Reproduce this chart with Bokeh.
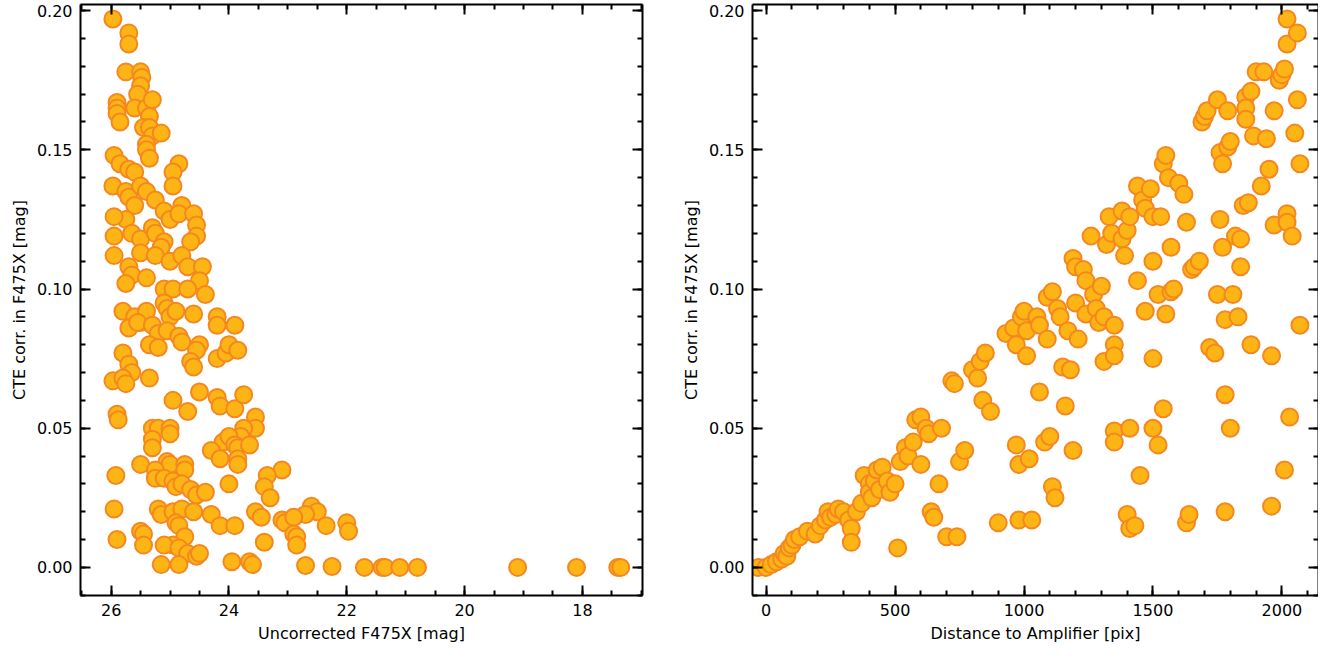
from bokeh.plotting import figure
from bokeh.layouts import row
from bokeh.models import LinearAxis, SingleIntervalTicker, Range1d, PrintfTickFormatter, CustomJSTickFormatter
from bokeh.embed import file_html
from bokeh.resources import INLINE

# left panel: uncorrected magnitude vs CTE correction
mag = [25.97, 25.7, 25.7, 25.75, 25.5, 25.48, 25.5, 25.55, 25.9, 25.9, 25.9, 25.85, 25.6, 25.4, 25.3, 25.35,
       25.45, 25.35, 25.3, 25.15, 25.4, 25.4, 25.35, 25.95, 25.85, 25.7, 25.6, 24.85, 24.95, 24.95, 25.97, 25.75,
       25.7, 25.5, 25.4, 25.25, 25.1, 25.6, 25.75, 25.95, 25.65, 25.95, 25.5, 25.3, 25.25, 25.0, 24.8, 24.85,
       24.6, 24.55, 24.55, 24.65, 25.1, 25.15, 25.95, 25.5, 25.25, 25.0, 24.8, 24.7, 24.45, 24.5, 25.7, 25.65,
       25.75, 25.4, 25.1, 24.95, 24.7, 24.4, 25.8, 25.6, 25.5, 25.4, 25.1, 25.05, 25.0, 24.9, 24.6, 24.2, 24.2,
       23.9, 25.7, 25.55, 25.3, 25.2, 25.05, 24.85, 24.8, 24.5, 24.55, 24.2, 24.05, 24.0, 23.85, 25.8, 25.7,
       25.65, 25.35, 25.2, 24.65, 24.6, 25.97, 25.8, 25.75, 25.35, 24.5, 24.2, 24.15, 23.9, 23.75, 24.95, 24.7,
       25.9, 25.88, 23.55, 23.55, 23.75, 23.8, 25.3, 25.2, 25.0, 25.0, 25.3, 25.3, 24.1, 24.0, 23.9, 23.85,
       23.65, 24.3, 24.15, 23.85, 23.85, 25.5, 25.05, 25.0, 24.75, 24.75, 25.25, 25.25, 25.1, 24.95, 24.9,
       25.92, 23.1, 23.35, 23.4, 23.3, 24.8, 24.65, 24.55, 24.4, 24.0, 25.95, 25.2, 25.15, 24.95, 24.8, 24.6,
       24.3, 23.55, 23.45, 24.9, 24.85, 24.15, 23.9, 23.1, 23.05, 22.6, 22.5, 22.7, 22.9, 22.35, 22.0, 21.97,
       25.9, 25.5, 25.45, 25.45, 24.75, 24.95, 25.1, 24.85, 24.7, 24.55, 24.5, 23.4, 22.9, 22.85, 22.85, 25.15,
       24.85, 23.95, 23.65, 23.6, 22.7, 22.25, 21.7, 21.4, 21.35, 21.1, 20.8, 19.1, 18.1, 17.4, 17.35]
cte_mag = [0.197, 0.192, 0.188, 0.178, 0.178, 0.176, 0.173, 0.170, 0.167, 0.165, 0.163, 0.160, 0.165, 0.165,
           0.168, 0.162, 0.158, 0.158, 0.155, 0.156, 0.152, 0.150, 0.147, 0.148, 0.145, 0.143, 0.142, 0.145,
           0.142, 0.137, 0.137, 0.135, 0.133, 0.137, 0.135, 0.132, 0.128, 0.130, 0.125, 0.126, 0.120, 0.119,
           0.118, 0.122, 0.120, 0.125, 0.130, 0.127, 0.127, 0.123, 0.119, 0.117, 0.117, 0.115, 0.112, 0.113,
           0.112, 0.110, 0.112, 0.108, 0.108, 0.103, 0.108, 0.105, 0.102, 0.104, 0.100, 0.100, 0.100, 0.098,
           0.092, 0.090, 0.088, 0.092, 0.095, 0.093, 0.090, 0.092, 0.091, 0.090, 0.087, 0.087, 0.086, 0.088,
           0.087, 0.084, 0.085, 0.083, 0.081, 0.080, 0.078, 0.075, 0.077, 0.080, 0.078, 0.077, 0.073, 0.070,
           0.080, 0.079, 0.074, 0.072, 0.067, 0.068, 0.066, 0.068, 0.063, 0.061, 0.058, 0.057, 0.062, 0.060,
           0.056, 0.055, 0.053, 0.054, 0.050, 0.050, 0.047, 0.050, 0.050, 0.050, 0.048, 0.046, 0.043, 0.045,
           0.047, 0.044, 0.043, 0.044, 0.042, 0.039, 0.039, 0.037, 0.037, 0.038, 0.037, 0.037, 0.035, 0.035,
           0.032, 0.032, 0.031, 0.029, 0.033, 0.035, 0.033, 0.029, 0.025, 0.030, 0.028, 0.026, 0.027, 0.030,
           0.021, 0.021, 0.019, 0.020, 0.021, 0.020, 0.019, 0.020, 0.018, 0.016, 0.015, 0.015, 0.015, 0.017,
           0.016, 0.022, 0.020, 0.019, 0.018, 0.015, 0.016, 0.013, 0.010, 0.013, 0.012, 0.008, 0.011, 0.008,
           0.008, 0.007, 0.005, 0.004, 0.005, 0.009, 0.012, 0.011, 0.008, 0.001, 0.001, 0.002, 0.002, 0.001,
           0.0007, 0.0003, 0.0, 0.0, 0.0, 0.0, 0.0, 0.0, 0.0, 0.0, 0.0]

# right panel: distance to amplifier vs CTE correction
dist = [-30, 0, 20, 40, 60, 70, 80, 90, 100, 110, 130, 160, 190, 210, 230, 240, 250, 270, 280, 300, 320, 330,
        330, 350, 370, 380, 400, 400, 410, 420, 430, 440, 450, 470, 480, 500, 510, 520, 540, 550, 570, 580, 600,
        600, 620, 630, 640, 650, 670, 680, 700, 720, 730, 740, 750, 770, 800, 820, 830, 840, 850, 870, 900, 930,
        960, 970, 970, 980, 980, 990, 1000, 1010, 1010, 1020, 1030, 1050, 1060, 1060, 1080, 1090, 1090, 1100,
        1110, 1110, 1120, 1130, 1140, 1150, 1160, 1170, 1180, 1190, 1190, 1200, 1200, 1210, 1230, 1240, 1240,
        1260, 1270, 1280, 1290, 1300, 1310, 1310, 1320, 1330, 1340, 1350, 1350, 1350, 1350, 1350, 1380, 1380,
        1390, 1400, 1410, 1410, 1400, 1410, 1430, 1440, 1440, 1450, 1460, 1470, 1470, 1490, 1500, 1500, 1500,
        1500, 1520, 1520, 1530, 1540, 1540, 1550, 1550, 1560, 1570, 1570, 1580, 1600, 1620, 1630, 1630, 1640,
        1650, 1660, 1680, 1690, 1700, 1710, 1720, 1740, 1750, 1750, 1760, 1760, 1770, 1770, 1780, 1780, 1780,
        1790, 1790, 1800, 1800, 1810, 1820, 1830, 1840, 1840, 1850, 1860, 1860, 1860, 1870, 1880, 1880, 1890,
        1900, 1920, 1930, 1940, 1950, 1960, 1960, 1970, 1970, 1990, 2000, 2010, 2010, 2020, 2020, 2020, 2020,
        2030, 2040, 2050, 2060, 2060, 2070, 2070]
cte_dist = [0.0, 0.0, 0.001, 0.002, 0.003, 0.005, 0.004, 0.007, 0.008, 0.010, 0.011, 0.013, 0.012, 0.015,
            0.017, 0.020, 0.018, 0.019, 0.021, 0.020, 0.017, 0.014, 0.009, 0.020, 0.023, 0.033, 0.030, 0.027,
            0.025, 0.031, 0.035, 0.028, 0.036, 0.031, 0.027, 0.030, 0.007, 0.038, 0.043, 0.040, 0.045, 0.053,
            0.054, 0.037, 0.050, 0.048, 0.020, 0.018, 0.030, 0.050, 0.011, 0.067, 0.066, 0.011, 0.038, 0.042,
            0.071, 0.068, 0.074, 0.060, 0.077, 0.056, 0.016, 0.084, 0.086, 0.080, 0.044, 0.037, 0.017, 0.090,
            0.092, 0.085, 0.076, 0.039, 0.017, 0.090, 0.087, 0.063, 0.045, 0.082, 0.097, 0.047, 0.099, 0.029,
            0.025, 0.093, 0.090, 0.072, 0.058, 0.085, 0.071, 0.111, 0.042, 0.108, 0.095, 0.082, 0.107, 0.103,
            0.091, 0.119, 0.098, 0.093, 0.088, 0.101, 0.074, 0.090, 0.116, 0.126, 0.120, 0.087, 0.080, 0.076,
            0.049, 0.045, 0.128, 0.118, 0.112, 0.121, 0.126, 0.050, 0.019, 0.014, 0.015, 0.137, 0.103, 0.033,
            0.132, 0.129, 0.092, 0.136, 0.126, 0.110, 0.075, 0.050, 0.044, 0.098, 0.126, 0.145, 0.057, 0.148,
            0.091, 0.140, 0.115, 0.099, 0.100, 0.138, 0.134, 0.124, 0.016, 0.019, 0.107, 0.108, 0.110, 0.160,
            0.162, 0.164, 0.079, 0.077, 0.168, 0.098, 0.149, 0.125, 0.145, 0.115, 0.089, 0.062, 0.020, 0.151,
            0.164, 0.153, 0.050, 0.098, 0.119, 0.090, 0.118, 0.108, 0.130, 0.169, 0.165, 0.161, 0.131, 0.080,
            0.171, 0.155, 0.178, 0.137, 0.178, 0.154, 0.143, 0.076, 0.022, 0.164, 0.123, 0.175, 0.177, 0.035,
            0.179, 0.127, 0.124, 0.188, 0.197, 0.054, 0.119, 0.156, 0.192, 0.168, 0.145, 0.087]

FONT = "DejaVu Sans"
FILL = "#FDB515"
EDGE = "#F5871F"
BLANK = CustomJSTickFormatter(code="return '';")


def style_axis(ax, major, minor_n, labels=True):
    ax.ticker = SingleIntervalTicker(interval=major, num_minor_ticks=minor_n)
    ax.axis_line_width = 2
    ax.axis_line_color = "black"
    ax.major_tick_in = 10
    ax.major_tick_out = 0
    ax.minor_tick_in = 5
    ax.minor_tick_out = 0
    ax.major_tick_line_width = 2
    ax.minor_tick_line_width = 2
    ax.major_label_text_font = FONT
    ax.major_label_text_font_size = "16px"
    ax.major_label_text_color = "black"
    ax.axis_label_text_font = FONT
    ax.axis_label_text_font_size = "16px"
    ax.axis_label_text_font_style = "normal"
    ax.axis_label_text_color = "black"
    ax.major_label_standoff = 8
    if not labels:
        ax.formatter = BLANK
        ax.major_label_standoff = 0


def make_panel(x, y, x_range, xlabel, xmajor, xminor, width, border_left, border_right):
    p = figure(width=width, height=650, output_backend="svg", toolbar_location=None,
               x_range=x_range, y_range=Range1d(-0.0101, 0.2022),
               min_border_left=border_left, min_border_right=border_right,
               min_border_top=4, min_border_bottom=55)
    p.grid.visible = False
    p.outline_line_color = None
    p.scatter(x, y, size=17, fill_color=FILL, line_color=EDGE, line_width=2)
    p.xaxis.axis_label = xlabel
    p.yaxis.axis_label = "CTE corr. in F475X [mag]"
    style_axis(p.xaxis[0], xmajor, xminor)
    style_axis(p.yaxis[0], 0.05, 5)
    p.yaxis[0].formatter = PrintfTickFormatter(format="%.2f")
    top = LinearAxis()
    style_axis(top, xmajor, xminor, labels=False)
    p.add_layout(top, "above")
    right = LinearAxis()
    style_axis(right, 0.05, 5, labels=False)
    p.add_layout(right, "right")
    return p


p1 = make_panel(mag, cte_mag, Range1d(26.52, 16.98), "Uncorrected F475X [mag]", 2, 4, 660, 80, 18)
p2 = make_panel(dist, cte_dist, Range1d(-53, 2142), "Distance to Amplifier [pix]", 500, 5, 658, 92, 0)

p = row(p1, p2)
open("out.html", "w").write(file_html(p, INLINE))
